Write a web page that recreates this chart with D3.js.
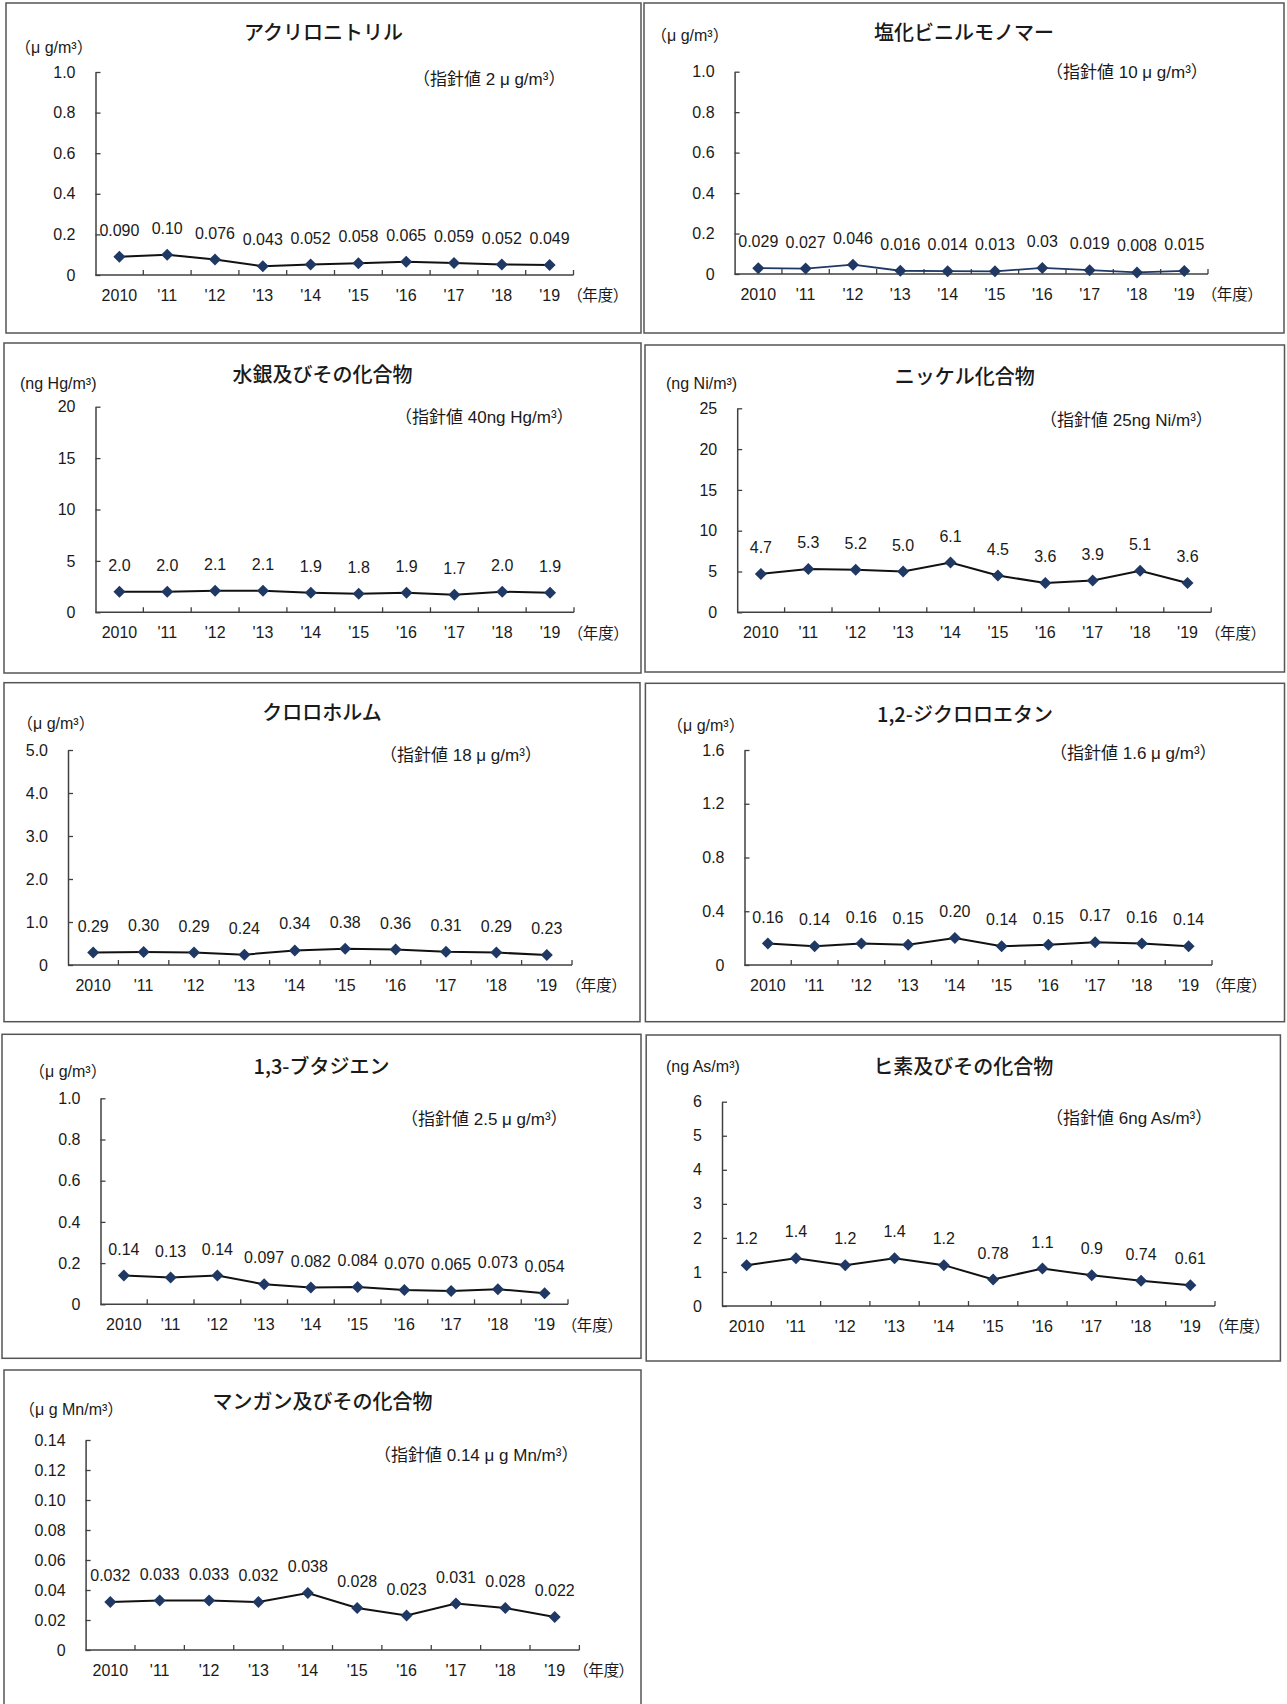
<!DOCTYPE html>
<html lang="ja">
<head>
<meta charset="utf-8">
<script src="https://cdn.jsdelivr.net/npm/d3@7"></script>
<style>
  html, body { margin: 0; padding: 0; background: #fff; }
  svg { display: block; }
  .num { font-family: "Liberation Sans", Arial, "Noto Sans CJK JP", sans-serif; fill: #1a1a1a; }
  .jp { font-family: "Noto Sans CJK JP", sans-serif; fill: #1a1a1a; }
  .mix { font-family: "Liberation Sans", Arial, "Noto Sans CJK JP", sans-serif; fill: #1a1a1a; }
</style>
</head>
<body>
<svg id="chart" width="1287" height="1704"></svg>
<script>
// ---------------- DATA ----------------
const categories = ["2010", "'11", "'12", "'13", "'14", "'15", "'16", "'17", "'18", "'19"];

// values as printed in the data labels (numeric value = +string)
const acrylonitrile   = ["0.090", "0.10", "0.076", "0.043", "0.052", "0.058", "0.065", "0.059", "0.052", "0.049"];
const vinylChloride   = ["0.029", "0.027", "0.046", "0.016", "0.014", "0.013", "0.03", "0.019", "0.008", "0.015"];
const mercury         = ["2.0", "2.0", "2.1", "2.1", "1.9", "1.8", "1.9", "1.7", "2.0", "1.9"];
const nickel          = ["4.7", "5.3", "5.2", "5.0", "6.1", "4.5", "3.6", "3.9", "5.1", "3.6"];
const chloroform      = ["0.29", "0.30", "0.29", "0.24", "0.34", "0.38", "0.36", "0.31", "0.29", "0.23"];
const dichloroethane  = ["0.16", "0.14", "0.16", "0.15", "0.20", "0.14", "0.15", "0.17", "0.16", "0.14"];
const butadiene       = ["0.14", "0.13", "0.14", "0.097", "0.082", "0.084", "0.070", "0.065", "0.073", "0.054"];
const arsenic         = ["1.2", "1.4", "1.2", "1.4", "1.2", "0.78", "1.1", "0.9", "0.74", "0.61"];
const manganese       = ["0.032", "0.033", "0.033", "0.032", "0.038", "0.028", "0.023", "0.031", "0.028", "0.022"];

// y-axis tick values and their labels
const ticksA = [0, 0.2, 0.4, 0.6, 0.8, 1.0];      const ticksALabels = ["0", "0.2", "0.4", "0.6", "0.8", "1.0"];
const ticksHg = [0, 5, 10, 15, 20];                const ticksHgLabels = ["0", "5", "10", "15", "20"];
const ticksNi = [0, 5, 10, 15, 20, 25];            const ticksNiLabels = ["0", "5", "10", "15", "20", "25"];
const ticksCl = [0, 1, 2, 3, 4, 5];                const ticksClLabels = ["0", "1.0", "2.0", "3.0", "4.0", "5.0"];
const ticksDc = [0, 0.4, 0.8, 1.2, 1.6];           const ticksDcLabels = ["0", "0.4", "0.8", "1.2", "1.6"];
const ticksAs = [0, 1, 2, 3, 4, 5, 6];             const ticksAsLabels = ["0", "1", "2", "3", "4", "5", "6"];
const ticksMn = [0, 0.02, 0.04, 0.06, 0.08, 0.10, 0.12, 0.14];
const ticksMnLabels = ["0", "0.02", "0.04", "0.06", "0.08", "0.10", "0.12", "0.14"];

const titles = ["アクリロニトリル", "塩化ビニルモノマー", "水銀及びその化合物", "ニッケル化合物",
                "クロロホルム", "1,2-ジクロロエタン", "1,3-ブタジエン", "ヒ素及びその化合物", "マンガン及びその化合物"];
const units = ["（μ g/m³）", "（μ g/m³）", "(ng Hg/m³)", "(ng Ni/m³)", "（μ g/m³）", "（μ g/m³）",
               "（μ g/m³）", "(ng As/m³)", "（μ g Mn/m³）"];
const guides = ["（指針値 2 μ g/m³）", "（指針値 10 μ g/m³）", "（指針値 40ng Hg/m³）", "（指針値 25ng Ni/m³）",
                "（指針値 18 μ g/m³）", "（指針値 1.6 μ g/m³）", "（指針値 2.5 μ g/m³）", "（指針値 6ng As/m³）",
                "（指針値 0.14 μ g Mn/m³）"];
const yearUnit = "（年度）";

// ---------------- LAYOUT ----------------
const series = [acrylonitrile, vinylChloride, mercury, nickel, chloroform, dichloroethane, butadiene, arsenic, manganese];
const tickSets = [ticksA, ticksA, ticksHg, ticksNi, ticksCl, ticksDc, ticksA, ticksAs, ticksMn];
const tickLabelSets = [ticksALabels, ticksALabels, ticksHgLabels, ticksNiLabels, ticksClLabels, ticksDcLabels, ticksALabels, ticksAsLabels, ticksMnLabels];

const layout = [
  { box: [6, 3, 641, 333],        x0: 95.5,  x1: 573.5, yb: 275,    yt: 72,     titleY: 33,     unitX: 15,    unitY: 47,     guideX: 413,    guideY: 79 },
  { box: [644, 3, 1284, 333],     x0: 734.6, x1: 1208,  yb: 274,    yt: 71.7,   titleY: 33,     unitX: 651,   unitY: 35,     guideX: 1046,   guideY: 72, line: "#1f3864", lw: 1.8 },
  { box: [4, 343, 641, 673],      x0: 95.5,  x1: 574,   yb: 612.3,  yt: 406.7,  titleY: 375,    unitX: 20,    unitY: 383,    guideX: 395,    guideY: 416.7 },
  { box: [645, 345, 1284.5, 672], x0: 737.2, x1: 1211.2,yb: 612.3,  yt: 408.3,  titleY: 376.7,  unitX: 666,   unitY: 383,    guideX: 1040,   guideY: 420 },
  { box: [4, 682.7, 640, 1021.7], x0: 68,    x1: 572,   yb: 965,    yt: 750,    titleY: 713.3,  unitX: 17,    unitY: 723,    guideX: 380,    guideY: 755 },
  { box: [645.4, 683.3, 1284.5, 1021.7], x0: 744.5, x1: 1212, yb: 965, yt: 750, titleY: 715,    unitX: 667,   unitY: 725,    guideX: 1050,   guideY: 752.7 },
  { box: [2, 1034.3, 641, 1358.3], x0: 100.5, x1: 568,  yb: 1304.3, yt: 1098.3, titleY: 1066.7, unitX: 29,    unitY: 1071.7, guideX: 401,    guideY: 1119.3 },
  { box: [646.2, 1035, 1280.4, 1361], x0: 722, x1: 1215, yb: 1306,  yt: 1101.7, titleY: 1066.7, unitX: 666,   unitY: 1066.7, guideX: 1046,   guideY: 1117.7 },
  { box: [4, 1370, 641, 1712],    x0: 85.6,  x1: 579.4, yb: 1650,   yt: 1440,   titleY: 1401.7, unitX: 19,    unitY: 1409.3, guideX: 374,    guideY: 1455 }
];

const svg = d3.select("#chart");
const MARKER = "#1f3864";
const AXIS = "#404040";

layout.forEach((L, i) => {
  const vals = series[i];
  const ticks = tickSets[i];
  const tlabels = tickLabelSets[i];
  const g = svg.append("g");

  // panel border
  g.append("rect")
    .attr("x", L.box[0]).attr("y", L.box[1])
    .attr("width", L.box[2] - L.box[0]).attr("height", L.box[3] - L.box[1])
    .attr("fill", "none").attr("stroke", "#555").attr("stroke-width", 1.5);

  const x = d3.scaleBand().domain(categories).range([L.x0, L.x1]).padding(0);
  const y = d3.scaleLinear().domain([0, d3.max(ticks)]).range([L.yb, L.yt]);
  const cx = c => x(c) + x.bandwidth() / 2;

  // title
  g.append("text").attr("class", "jp")
    .attr("x", (L.box[0] + L.box[2]) / 2).attr("y", L.titleY).attr("dy", "0.35em")
    .attr("text-anchor", "middle").attr("font-size", 20).attr("font-weight", 500)
    .text(titles[i]);

  // unit
  g.append("text").attr("class", "mix")
    .attr("x", L.unitX).attr("y", L.unitY).attr("dy", "0.35em")
    .attr("font-size", 16).text(units[i]);

  // guideline value
  g.append("text").attr("class", "mix")
    .attr("x", L.guideX).attr("y", L.guideY).attr("dy", "0.35em")
    .attr("font-size", 17).text(guides[i]);

  // y axis
  const yAxis = d3.axisLeft(y).tickValues(ticks).tickSizeInner(-5).tickSizeOuter(0).tickPadding(20)
    .tickFormat((d, k) => tlabels[k]);
  const ya = g.append("g").attr("transform", `translate(${L.x0},0)`).call(yAxis);
  ya.select(".domain").attr("stroke", AXIS).attr("stroke-width", 1.5);
  ya.selectAll(".tick line").attr("stroke", AXIS).attr("stroke-width", 1.3);
  ya.selectAll(".tick text").attr("class", "num").attr("font-size", 16)
    .attr("font-family", null).attr("fill", "#1a1a1a");

  // x axis: line + boundary ticks
  g.append("line").attr("x1", L.x0).attr("x2", L.x1).attr("y1", L.yb).attr("y2", L.yb)
    .attr("stroke", AXIS).attr("stroke-width", 1.5);
  const bounds = categories.slice(1).map(c => x(c)).concat([L.x1]);
  g.selectAll(".xtick").data(bounds).enter().append("line")
    .attr("x1", d => d).attr("x2", d => d).attr("y1", L.yb).attr("y2", L.yb - 5)
    .attr("stroke", AXIS).attr("stroke-width", 1.3);

  const xAxis = d3.axisBottom(x).tickSize(0).tickPadding(0);
  const xa = g.append("g").attr("transform", `translate(0,${L.yb})`).call(xAxis);
  xa.select(".domain").remove();
  xa.selectAll(".tick text").attr("class", "num").attr("font-size", 16)
    .attr("font-family", null).attr("fill", "#1a1a1a")
    .attr("y", 20).attr("dy", "0.35em");

  // year unit
  g.append("text").attr("class", "jp")
    .attr("x", L.x1 + 1).attr("y", L.yb + 21).attr("dy", "0.35em")
    .attr("font-size", 15.5).style("font-feature-settings", "'palt'")
    .text(yearUnit);

  // line
  const line = d3.line().x((d, k) => cx(categories[k])).y(d => y(+d));
  g.append("path").datum(vals).attr("d", line)
    .attr("fill", "none").attr("stroke", L.line || "#111").attr("stroke-width", L.lw || 2);

  // markers
  const sym = d3.symbol(d3.symbolSquare, 72);
  g.selectAll(".mk").data(vals).enter().append("path")
    .attr("d", sym)
    .attr("transform", (d, k) => `translate(${cx(categories[k])},${y(+d)}) rotate(45)`)
    .attr("fill", MARKER);

  // data labels
  g.selectAll(".lbl").data(vals).enter().append("text")
    .attr("class", "num").attr("font-size", 16).attr("text-anchor", "middle")
    .attr("x", (d, k) => cx(categories[k])).attr("y", d => y(+d) - 26.5).attr("dy", "0.35em")
    .text(d => d);
});
</script>
</body>
</html>
